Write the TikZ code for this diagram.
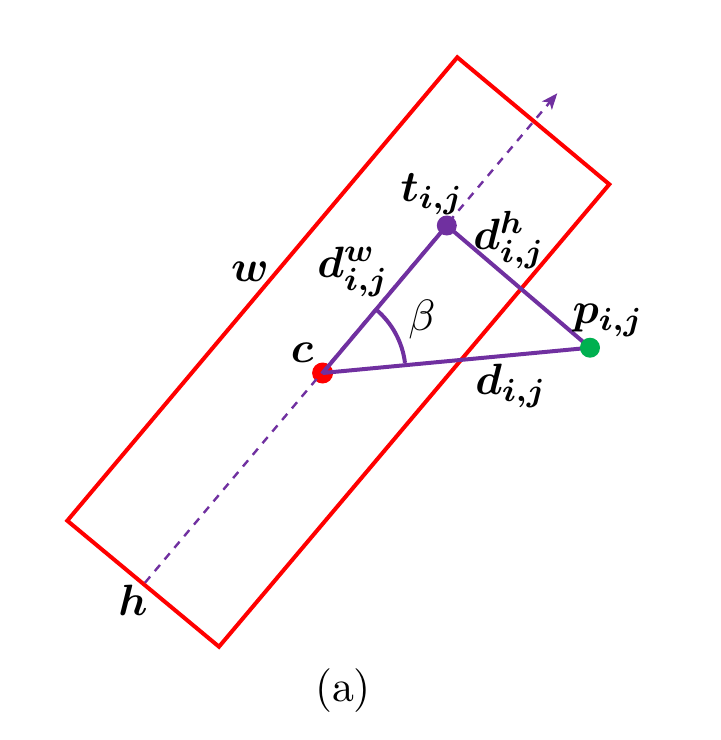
\documentclass[tikz,border=0pt]{standalone}
\usepackage{amsmath}
\usepackage{bm}
\usetikzlibrary{arrows.meta}
\definecolor{myred}{RGB}{255,0,0}
\definecolor{mypurple}{RGB}{112,48,160}
\definecolor{mygreen}{RGB}{0,176,80}
\begin{document}
\begin{tikzpicture}[x=0.25pt,y=-0.25pt,
  box/.style={draw=myred,line width=1pt,line join=miter},
  axis/.style={draw=mypurple,line width=0.6pt,dash pattern=on 2pt off 1.8pt,-{Stealth[length=4pt,width=3.2pt,inset=1pt]}},
  seg/.style={draw=mypurple,line width=1pt},
  lbl/.style={inner sep=0pt,font=\fontsize{10.95}{13}\selectfont}]
\useasboundingbox (0,0) rectangle (720,740);
% rectangle corners
\coordinate (A) at (457.3,57.3);
\coordinate (B) at (609.3,184.3);
\coordinate (C) at (219,646.7);
\coordinate (D) at (67.3,520.7);
\draw[box] (A) -- (B) -- (C) -- (D) -- cycle;
% points
\coordinate (c) at (322.6,373);
\coordinate (t) at (446.8,225.5);
\coordinate (p) at (590,347.7);
\fill[myred] (c) circle[radius=10.5];
% axis
\coordinate (hmid) at (145,582.7);
\coordinate (tip) at (557.3,93.3);
\draw[axis] (hmid) -- (tip);
\draw[seg] (c) -- (t) -- (p) -- (c);
% angle arc
\draw[seg] ([shift={(c)}]-49.8:83) arc[start angle=-49.8,end angle=-7.0,radius=83];
% dots
\fill[mypurple] (t) circle[radius=10];
\fill[mygreen] (p) circle[radius=10];
% labels
\node[lbl] (lt) at (432,194) {$\bm{t_{i,j}}$};
\node[lbl] (ldh) at (509,240) {$\bm{d^h_{i,j}}$};
\node[lbl] (ldw) at (353,272) {$\bm{d^w_{i,j}}$};
\node[lbl] (lb) at (422,320) {$\beta$};
\node[lbl] (lc) at (302,353) {$\bm{c}$};
\node[lbl] (lp) at (608,320) {$\bm{p_{i,j}}$};
\node[lbl] (ld) at (511,386) {$\bm{d_{i,j}}$};
\node[lbl] (lw) at (250,272) {$\bm{w}$};
\node[lbl] (lh) at (133,600) {$\bm{h}$};
\node[lbl] (la) at (343,691) {(a)};
\end{tikzpicture}
\end{document}
